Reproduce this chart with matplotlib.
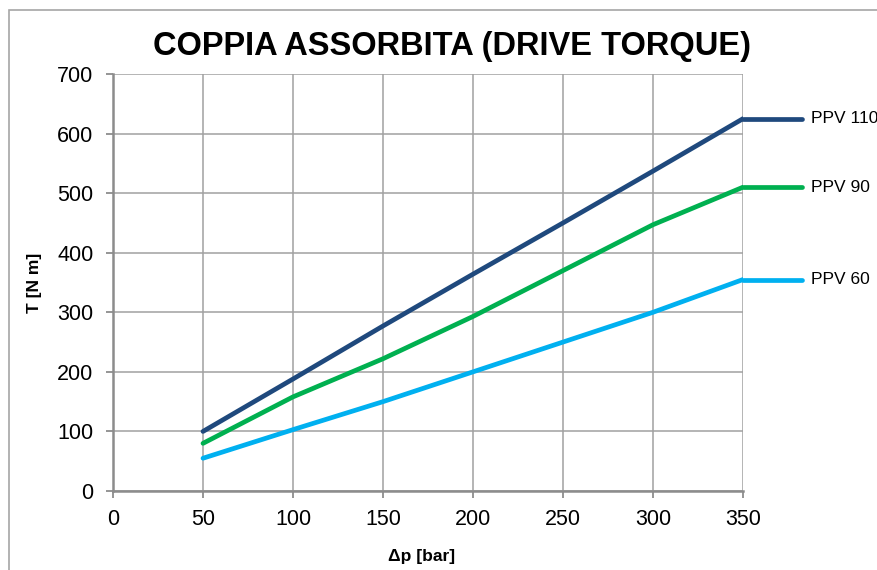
import matplotlib
matplotlib.use('Agg')
import matplotlib.pyplot as plt
from matplotlib.patches import Rectangle

plt.rcParams['font.family'] = ['Liberation Sans', 'DejaVu Sans']

# Data
pressure = [50, 100, 150, 200, 250, 300, 350]
ppv_110 = [100, 188, 277, 364, 450, 537, 625]
ppv_90 = [80, 158, 222, 293, 370, 447, 510]
ppv_60 = [55, 103, 150, 200, 250, 300, 355]
series = [('PPV 110', ppv_110, '#1F497D'),
          ('PPV 90', ppv_90, '#00B050'),
          ('PPV 60', ppv_60, '#00B0F0')]
x_ticks = [0, 50, 100, 150, 200, 250, 300, 350]
y_ticks = [0, 100, 200, 300, 400, 500, 600, 700]

fig = plt.figure(figsize=(8.77, 5.70), dpi=100)
ax = fig.add_axes([113 / 877, 1 - 491 / 570, 630 / 877, 417 / 570])

# chart frame like the spreadsheet object border
fig.patches.append(Rectangle((9 / 877, -0.1), 1.2, 1.1 - 10 / 570,
                             transform=fig.transFigure, fill=False,
                             edgecolor='#a6a6a6', linewidth=1.2))

for name, vals, col in series:
    ax.plot(pressure, vals, color=col, lw=3.4, solid_capstyle='round',
            solid_joinstyle='round', zorder=3)
    # legend sample continuing from last point, then label
    ax.plot([pressure[-1], pressure[-1] + 33], [vals[-1], vals[-1]], color=col,
            lw=3.4, solid_capstyle='round', clip_on=False, zorder=3)
    ax.text(pressure[-1] + 38, vals[-1], name, fontsize=12.5, va='center',
            ha='left', clip_on=False)

ax.set_xlim(0, 350)
ax.set_ylim(0, 700)
ax.set_xticks(x_ticks)
ax.set_yticks(y_ticks)
ax.grid(True, color='#a0a0a0', lw=1.1)
ax.set_axisbelow(True)

for s in ['top', 'right']:
    ax.spines[s].set_visible(False)
for s in ['left', 'bottom']:
    ax.spines[s].set_color('#8c8c8c')
    ax.spines[s].set_linewidth(1.8)
ax.tick_params(axis='both', colors='#8c8c8c', labelcolor='black',
               labelsize=15.5, length=5, width=1.3)
ax.tick_params(axis='x', pad=8)
ax.tick_params(axis='y', pad=9)

fig.text(452 / 877, 1 - 46 / 570, 'COPPIA ASSORBITA (DRIVE TORQUE)',
         fontsize=23.5, fontweight='bold', ha='center', va='center')
ax.set_xlabel('Δp [bar]', fontsize=12.5, fontweight='bold', va='center')
ax.xaxis.set_label_coords(0.489, -0.158)
ax.set_ylabel('T [N m]', fontsize=12.5, fontweight='bold', va='center')
ax.yaxis.set_label_coords(-0.124, 0.5)

fig.savefig('out.png', dpi=100)
